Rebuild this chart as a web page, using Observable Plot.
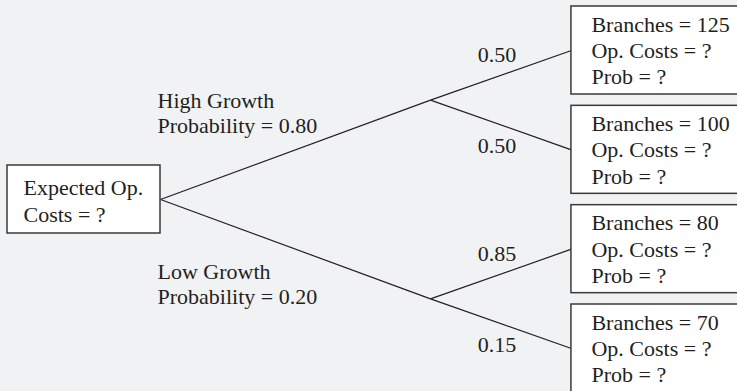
<!DOCTYPE html>
<html>
<head>
<meta charset="utf-8">
<script src="https://cdn.jsdelivr.net/npm/d3@7"></script>
<script src="https://cdn.jsdelivr.net/npm/@observablehq/plot@0.6"></script>
<style>
  html, body { margin: 0; padding: 0; background: #f1f2f4; }
  #chart svg { display: block; }
</style>
</head>
<body>
<div id="chart"></div>
<script>
// ---- data ----
const rootLines = ["Expected Op.", "Costs = ?"];
const scenarios = ["High Growth", "Low Growth"];
const scenarioProbs = [0.80, 0.20];
const branchCounts = [125, 100, 80, 70];
const branchProbs = [0.50, 0.50, 0.85, 0.15];
const branchParent = [0, 0, 1, 1];

// ---- layout (tree structure -> column / row units) ----
const columnPos = [0, 1, 1.522]; // relative horizontal position of each tree level
const fmt = d3.format(".2f");
const leaves = branchCounts.map((b, i) => ({col: columnPos[2], row: i, count: b, prob: branchProbs[i], parent: branchParent[i]}));
const mids = scenarios.map((s, j) => {
  const kids = leaves.filter(l => l.parent === j);
  return {col: columnPos[1], row: d3.mean(kids, k => k.row), name: s, prob: scenarioProbs[j]};
});
const root = {col: columnPos[0], row: d3.mean(mids, m => m.row)};

const edges1 = mids.map(m => ({x1: root.col, y1: root.row, x2: m.col, y2: m.row, up: m.row < root.row,
  label: `${m.name}\nProbability = ${fmt(m.prob)}`}));
const edges2 = leaves.map(l => {
  const p = mids[l.parent];
  return {x1: p.col, y1: p.row, x2: l.col, y2: l.row, up: l.row < p.row, label: fmt(l.prob),
    mx: (p.col + l.col) / 2, my: (p.row + l.row) / 2};
});
const edges = edges1.concat(edges2);

const font = "Liberation Serif, Times New Roman, serif";
const ink = "#231f20";

const chart = Plot.plot({
  width: 737,
  height: 391,
  margin: 0,
  style: {background: "#f1f2f4", overflow: "visible"},
  x: {domain: [0, 1], range: [160, 430], axis: null},
  y: {domain: [0, 3], range: [50, 348], axis: null},
  marks: [
    Plot.link(edges, {x1: "x1", y1: "y1", x2: "x2", y2: "y2", stroke: ink, strokeWidth: 1.2}),
    // root box
    Plot.rect([root], {x1: "col", x2: "col", y1: "row", y2: "row",
      insetLeft: -153, insetRight: 0, insetTop: -34, insetBottom: -34,
      fill: "white", stroke: "#3a3a3a", strokeWidth: 1.5}),
    Plot.text([root], {x: "col", y: "row", text: () => rootLines.join("\n"),
      textAnchor: "start", dx: -137, dy: 0, lineHeight: 1.22,
      fontSize: 22, fontFamily: font, fill: ink}),
    // leaf boxes
    Plot.rect(leaves, {x1: "col", x2: "col", y1: "row", y2: "row",
      insetLeft: 0, insetRight: -200, insetTop: -44, insetBottom: -44,
      fill: "white", stroke: "#3a3a3a", strokeWidth: 1.5}),
    Plot.text(leaves, {x: "col", y: "row", text: d => `Branches = ${d.count}\nOp. Costs = ?\nProb = ?`,
      textAnchor: "start", dx: 20, dy: -1, lineHeight: 1.2,
      fontSize: 22, fontFamily: font, fill: ink}),
    // scenario labels
    Plot.text(edges1.filter(e => e.up), {x: "x1", y: "y1", text: "label", textAnchor: "start",
      dx: -3, dy: -87, lineHeight: 1.15, fontSize: 22, fontFamily: font, fill: ink}),
    Plot.text(edges1.filter(e => !e.up), {x: "x1", y: "y1", text: "label", textAnchor: "start",
      dx: -3, dy: 84, lineHeight: 1.15, fontSize: 22, fontFamily: font, fill: ink}),
    // branch probability labels
    Plot.text(edges2.filter(e => e.up), {x: "mx", y: "my", text: "label", textAnchor: "middle",
      dx: -4, dy: -20, fontSize: 22, fontFamily: font, fill: ink}),
    Plot.text(edges2.filter(e => !e.up), {x: "mx", y: "my", text: "label", textAnchor: "middle",
      dx: -4, dy: 21, fontSize: 22, fontFamily: font, fill: ink})
  ]
});
document.getElementById("chart").appendChild(chart);
</script>
</body>
</html>
